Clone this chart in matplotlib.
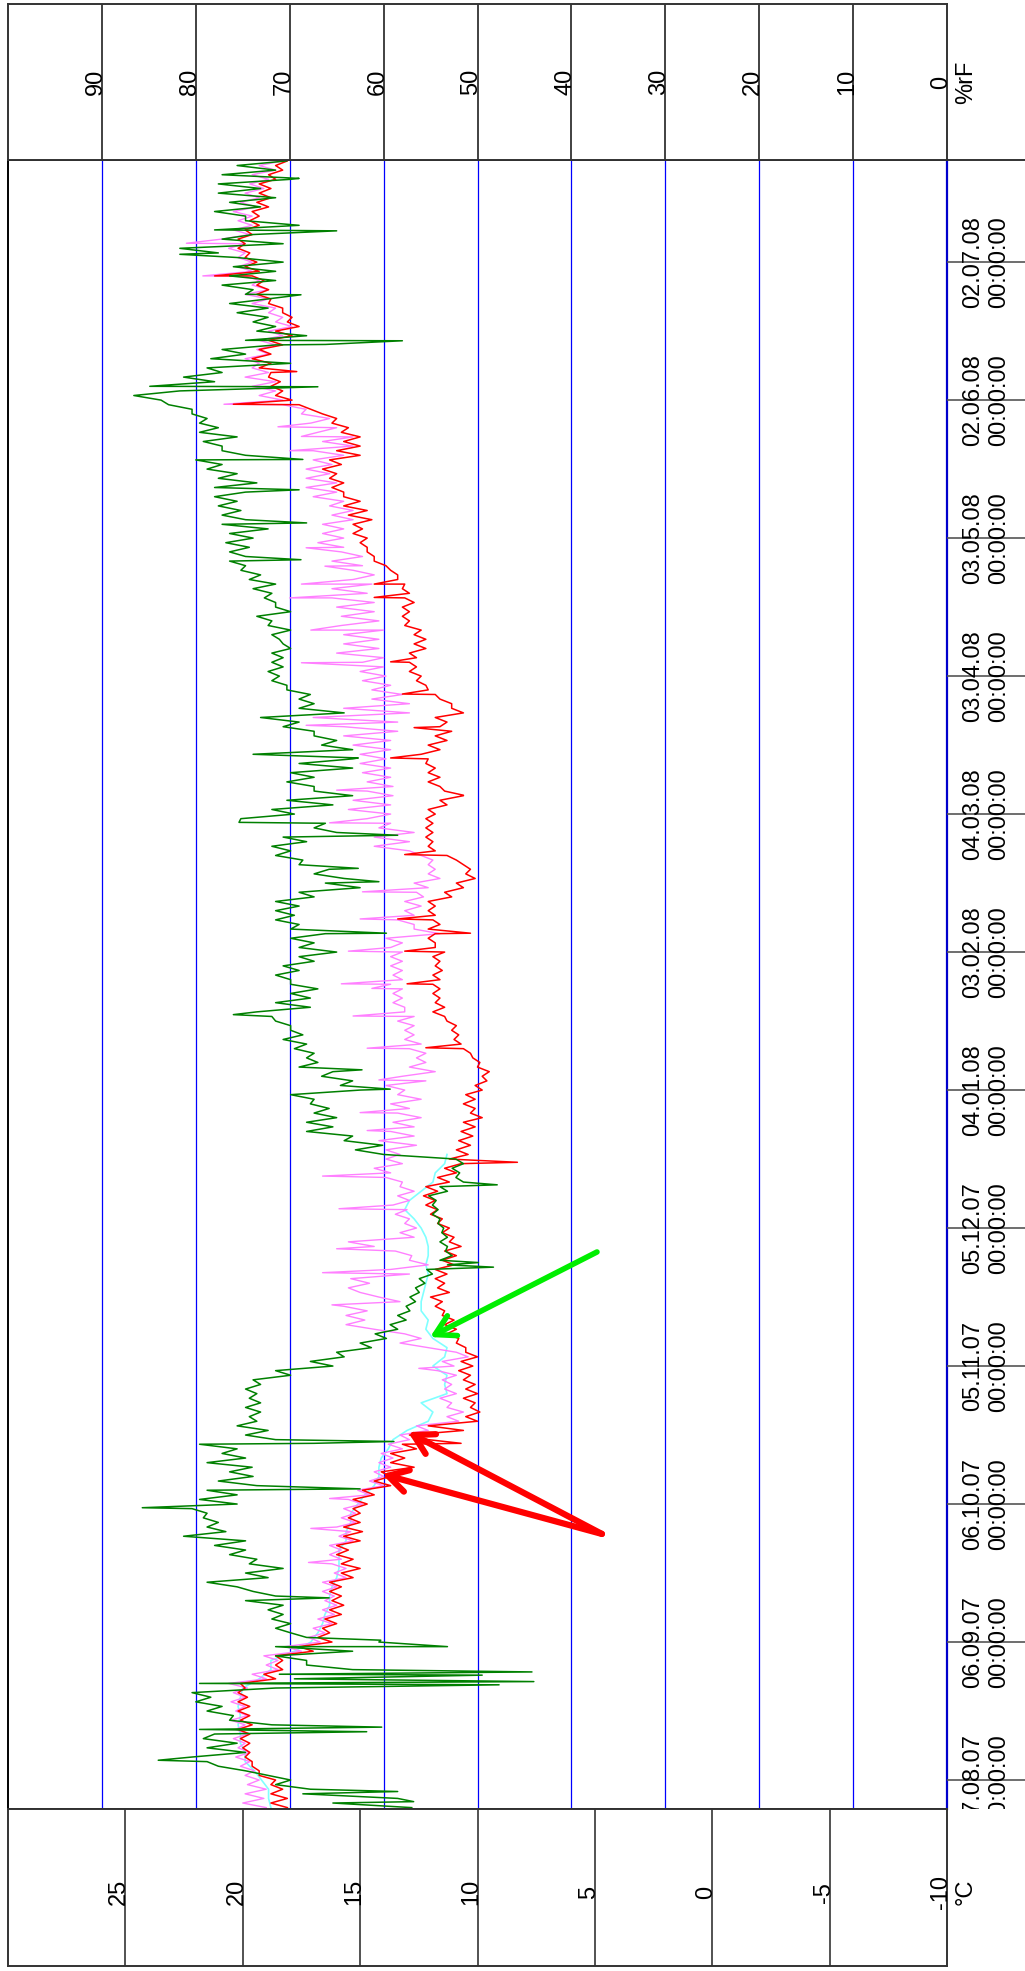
import numpy as np
import matplotlib.pyplot as plt
from datetime import datetime

plt.rcParams['font.family'] = ['Liberation Sans', 'DejaVu Sans']

# each reading block covers two days, counted from 07.08.07 00:00;
# *_lo is the lower edge of the band on the first day, *_hi the upper edge on the second day
days = np.arange(-6, 353, 2)

red_lo = [
    18.1, 18.1, 18.3, 18.6, 19.3, 19.6, 19.7, 19.7, 19.7, 19.6,
    19.7, 19.7, 19.8, 19.9, 18.6, 18.3, 18.3, 17.0, 16.2, 16.3,
    16.0, 15.8, 15.7, 15.8, 15.8, 15.3, 15.0, 15.3, 15.5, 15.0,
    14.9, 15.0, 15.0, 14.7, 14.4, 13.7, 13.7,
    12.7, 13.1, 12.6, 12.1, 10.6, 10.0, 9.9, 10.1, 10.0, 10.1,
    10.3, 10.2, 10.0, 10.5, 10.8, 10.9, 11.0, 11.4, 11.5, 11.2,
    11.4, 11.3, 11.0, 10.9, 10.7, 11.0, 11.2, 11.5, 11.7, 11.8,
    11.7, 11.2, 10.9, 10.7, 10.4,
    10.3, 10.2, 10.1, 9.8, 10.1, 10.1, 9.8, 9.6, 9.5, 9.9,
    10.3, 10.7, 10.8, 10.9, 11.4, 11.4, 11.6, 11.6, 11.6, 11.5,
    11.6, 11.4, 11.8, 11.8, 11.6, 11.8, 11.8, 11.1, 10.6, 10.1,
    10.3, 10.9, 11.8, 11.9, 11.9, 11.9,
    11.8, 11.3, 10.6, 11.6, 11.6, 11.8, 12.1, 11.6, 11.3, 11.1,
    11.3, 10.6, 11.1, 11.8, 12.2, 12.4, 12.6, 12.6, 12.2, 12.2,
    12.4, 12.9, 12.9, 12.7, 12.9, 13.1, 13.4, 13.9, 14.4, 14.7,
    14.7, 14.9, 14.5, 14.7, 15.0, 15.7,
    15.7, 16.0, 15.8, 15.0, 15.0, 15.0, 15.5, 16.0, 17.1, 17.9,
    18.3, 18.4, 18.8, 18.8, 18.8, 18.3, 17.9, 17.6, 17.9, 18.3,
    18.8, 18.9, 19.1, 19.3, 19.4, 19.7, 19.9, 19.6, 19.3, 19.3,
    18.9, 18.8, 18.8, 18.6, 18.3, 18.1,
]
red_hi = [
    18.8, 18.8, 18.8, 19.3, 19.6, 19.9, 20.0, 20.1, 20.2, 20.1,
    20.2, 20.2, 20.2, 20.1, 19.1, 18.6, 18.6, 17.6, 16.8, 16.6,
    16.5, 16.3, 16.2, 16.3, 16.3, 15.8, 15.8, 16.0, 16.0, 15.7,
    15.7, 15.5, 15.3, 15.3, 14.9, 14.4, 14.1,
    13.7, 13.7, 13.2, 12.9, 12.1, 10.5, 10.3, 10.6, 10.5, 10.6,
    10.8, 10.7, 10.5, 10.9, 11.3, 11.4, 11.5, 11.8, 12.0, 11.7,
    11.8, 11.8, 11.5, 11.4, 11.2, 11.5, 11.7, 12.0, 12.2, 12.3,
    12.2, 11.7, 11.4, 11.2, 10.9,
    10.8, 10.7, 10.6, 10.3, 10.6, 10.5, 10.1, 9.8, 10.0, 10.2,
    10.6, 11.0, 11.1, 11.3, 11.9, 11.8, 11.9, 11.9, 11.9, 11.8,
    11.9, 11.8, 12.1, 12.1, 11.9, 12.1, 12.1, 11.4, 10.9, 10.5,
    10.6, 11.3, 12.1, 12.2, 12.2, 12.2,
    12.1, 11.6, 11.4, 12.1, 12.1, 12.2, 12.4, 12.1, 11.8, 11.6,
    11.8, 11.1, 11.6, 12.1, 12.6, 12.9, 12.9, 12.9, 12.7, 12.7,
    13.1, 13.2, 13.2, 13.1, 13.2, 13.4, 13.7, 14.4, 14.7, 15.0,
    15.3, 15.3, 15.5, 15.7, 15.7, 16.2,
    16.3, 16.6, 16.3, 16.0, 15.7, 15.8, 16.2, 16.6, 17.6, 18.6,
    18.8, 18.9, 19.3, 19.6, 19.3, 18.9, 18.6, 18.1, 18.3, 18.9,
    19.4, 19.4, 19.6, 19.9, 19.9, 20.2, 20.2, 19.9, 19.7, 19.6,
    19.4, 19.3, 19.3, 18.9, 18.6, 18.4,
]

pink_lo = [
    19.0, 19.1, 19.0, 19.3, 19.5, 19.7, 19.7, 19.9, 19.8, 19.9,
    19.8, 19.9, 19.9, 19.8, 19.0, 18.5, 18.5, 17.5, 16.7, 16.5,
    16.2, 16.1, 16.0, 16.1, 16.0, 15.6, 15.6, 15.8, 15.8, 15.3,
    15.4, 15.2, 15.2, 14.9, 14.6, 14.0, 14.0,
    13.7, 13.6, 13.2, 12.9, 12.1, 10.8, 10.6, 11.1, 10.9, 11.1,
    10.9, 11.0, 10.4, 12.1, 12.4, 14.4, 14.8, 14.7, 13.3, 15.0,
    14.6, 12.9, 12.1, 12.8, 14.4, 12.7, 12.6, 12.9, 13.0, 12.9,
    12.7, 13.2, 13.7, 13.2, 13.3,
    12.6, 12.7, 12.7, 12.4, 12.9, 12.4, 13.1, 12.2, 11.8, 12.2,
    12.2, 12.4, 12.7, 12.7, 12.7, 13.1, 13.2, 13.2, 13.2, 13.2,
    13.2, 13.2, 13.2, 11.6, 12.7, 12.7, 12.4, 12.3, 12.1, 11.6,
    11.8, 11.9, 12.9, 12.9, 12.7, 13.7,
    13.7, 13.7, 13.6, 13.6, 13.7, 13.7, 13.9, 13.7, 13.7, 13.4,
    13.4, 12.9, 12.9, 13.2, 13.7, 13.9, 14.0, 14.0, 14.2, 14.2,
    14.0, 14.2, 14.4, 14.4, 14.7, 14.5, 14.4, 14.9, 14.9, 15.7,
    15.7, 15.7, 15.3, 15.3, 15.7, 16.0,
    16.0, 16.3, 16.2, 15.7, 15.3, 15.3, 16.0, 16.3, 17.3, 18.3,
    18.6, 18.6, 18.9, 19.3, 18.9, 18.6, 18.3, 17.9, 18.3, 18.6,
    18.9, 18.9, 19.3, 19.6, 19.6, 19.9, 19.9, 19.7, 19.6, 19.6,
    19.4, 19.3, 19.1, 18.9, 18.6, 18.3,
]
pink_hi = [
    20.0, 19.9, 19.8, 19.9, 20.1, 20.3, 20.2, 20.4, 20.3, 20.5,
    20.3, 20.5, 20.4, 20.6, 19.6, 19.0, 19.1, 18.2, 17.2, 17.0,
    16.8, 16.6, 16.5, 16.6, 16.6, 16.1, 16.2, 16.3, 16.3, 15.9,
    16.0, 15.8, 15.7, 15.5, 15.1, 14.6, 14.4,
    14.2, 14.1, 13.8, 13.3, 12.6, 11.3, 11.3, 11.6, 11.4, 11.5,
    11.7, 11.5, 10.9, 13.3, 13.1, 15.6, 15.6, 15.7, 14.2, 15.5,
    15.4, 13.7, 12.9, 13.5, 15.5, 13.3, 13.1, 13.5, 13.6, 13.4,
    13.3, 13.9, 14.4, 13.9, 13.9,
    14.2, 13.7, 13.6, 13.4, 13.7, 13.4, 13.9, 13.2, 12.9, 12.6,
    12.9, 13.1, 13.1, 13.4, 13.1, 13.6, 13.6, 13.7, 13.6, 13.7,
    13.7, 13.7, 13.9, 12.7, 13.4, 13.1, 13.1, 12.6, 12.7, 12.1,
    12.1, 12.4, 14.4, 14.4, 14.2, 14.7,
    15.5, 15.3, 14.7, 14.7, 14.9, 15.0, 15.0, 15.3, 15.7, 15.7,
    17.0, 15.7, 14.5, 14.5, 14.9, 15.0, 14.9, 16.0, 15.7, 15.7,
    15.8, 15.8, 16.0, 16.2, 16.2, 15.3, 15.3, 16.2, 15.8, 16.8,
    16.6, 16.6, 16.2, 16.3, 17.0, 17.3,
    17.3, 17.3, 17.0, 17.0, 16.6, 16.8, 17.1, 17.5, 18.3, 19.3,
    19.6, 19.9, 19.6, 19.9, 19.4, 19.3, 18.9, 18.6, 18.9, 19.6,
    19.9, 19.6, 19.9, 20.2, 20.2, 20.6, 20.9, 20.4, 20.2, 20.4,
    20.1, 19.9, 19.7, 19.6, 19.3, 18.9,
]

# cyan sensor only logged until mid December (one value per block)
temp_cyan = [
    18.8, 18.9, 18.9, 19.2, 19.5, 19.9, 19.9, 20.1, 20.1, 20.2,
    20.1, 20.2, 20.1, 20.0, 19.3, 18.8, 18.8, 17.8, 17.1, 16.8,
    16.6, 16.5, 16.3, 16.3, 16.2, 16.0, 15.9, 15.9, 15.9, 15.6,
    15.6, 15.4, 15.4, 15.1, 14.8, 14.4, 14.2,
    14.2, 14.1, 13.8, 13.6, 13.0, 12.1, 11.9, 12.4, 11.3, 11.4,
    11.3, 11.9, 11.4, 11.3, 11.9, 12.2, 12.1, 12.4, 12.4, 12.3,
    12.2, 12.1, 12.2, 12.1, 12.1, 12.2, 12.4, 12.7, 13.1, 12.9,
    12.4, 11.9, 11.8, 11.4, 11.3,
]

green_lo = [
    57, 58.5, 67.8, 69.9, 74.7, 78.8, 74.7, 75.6, 78.0, 71.9,
    76.0, 77.2, 78.4, 71.5, 69.5, 63.3, 68.2, 63.3, 60.5, 69.9,
    69.9, 70.7, 70.7, 71.5, 75.6, 72.3, 70.7, 73.5, 74.7, 74.7,
    76.8, 77.6, 78.8, 75.6, 75.6, 73.5, 73.9,
    74, 74.7, 75.6, 71.5, 72.3, 73.5, 73.1, 73.1, 73.5, 73.1,
    69.9, 65.4, 64.2, 61.3, 59.7, 58.5, 57.6, 57.2, 56.6, 56.2,
    55.6, 54.8, 53.2, 52.7, 53.2, 53.2, 53.6, 54.0, 54.2, 54.4,
    53.2, 51.5, 51.9, 51.5, 60,
    60.1, 63.3, 65.4, 65.0, 65.8, 67.4, 62.5, 63.3, 65.4, 67.0,
    67.4, 68.2, 68.6, 69.9, 71.9, 67.8, 67.8, 67.0, 69.9, 69.0,
    67.4, 65.0, 67.4, 66.2, 69.0, 69.5, 69.0, 67.4, 62.5, 64.2,
    65.8, 68.6, 69.9, 68.2, 65.0, 66.2,
    69.5, 65.4, 63.3, 67.4, 67.4, 63.3, 63.3, 63.3, 65.0, 67.4,
    69.0, 64.2, 67.4, 67.8, 70.3, 71.1, 70.7, 70.7, 69.9, 71.1,
    69.9, 71.9, 69.9, 71.5, 71.9, 71.5, 73.1, 74.7, 74.7, 74.3,
    73.9, 72.3, 74.7, 75.2, 75.6, 74.7,
    73.5, 75.6, 77.2, 74.7, 77.2, 75.6, 77.6, 78.8, 80.4, 83.7,
    81.7, 78.0, 77.2, 69.9, 74.7, 71.5, 68.2, 71.5, 72.3, 72.3,
    72.3, 73.9, 71.5, 71.5, 70.7, 77.6, 70.7, 73.9, 69.0, 74.7,
    73.1, 71.5, 73.1, 69.9, 71.5, 70.3,
]
green_hi = [
    65.4, 68.6, 71.5, 72.3, 77.6, 80.4, 78.8, 79.2, 79.6, 76.4,
    78.8, 80.0, 80.4, 79.6, 71.1, 68.2, 71.5, 71.5, 68.2, 71.5,
    71.9, 72.3, 74.7, 73.9, 78.8, 74.7, 74.3, 76.4, 78.0, 81.3,
    78.8, 79.2, 80.4, 79.6, 78.8, 77.6, 76.4,
    78.8, 77.2, 79.6, 74.7, 75.6, 74.3, 74.7, 74.3, 74.7, 73.9,
    71.5, 67.8, 65.0, 62.5, 60.9, 59.3, 58.5, 57.6, 57.2, 56.6,
    56.2, 55.4, 54.0, 53.4, 54.0, 53.8, 54.2, 54.8, 54.8, 55.2,
    54.0, 52.3, 52.7, 52.3, 63,
    64.2, 68.2, 68.2, 67.4, 67.8, 69.9, 64.6, 66.6, 69.0, 68.2,
    69.5, 70.7, 69.9, 71.5, 73.5, 71.5, 69.9, 69.9, 71.5, 70.7,
    69.0, 69.0, 69.9, 69.9, 71.5, 71.5, 71.5, 69.0, 66.2, 67.4,
    69.0, 71.5, 71.9, 70.7, 67.4, 75.2,
    71.9, 70.3, 67.4, 70.3, 69.9, 69.0, 73.9, 66.6, 67.4, 70.7,
    73.1, 69.0, 69.0, 70.3, 71.9, 72.3, 71.9, 71.9, 70.7, 71.9,
    72.3, 73.5, 71.5, 72.7, 73.9, 74.3, 75.2, 76.4, 76.4, 76.8,
    76.4, 77.2, 77.2, 77.6, 78.0, 78.0,
    77.6, 78.8, 80.0, 77.2, 79.2, 79.6, 79.6, 80.4, 82.9, 86.6,
    84.9, 81.3, 78.8, 78.4, 77.2, 74.7, 73.5, 73.9, 75.6, 76.4,
    74.7, 77.2, 76.4, 76.0, 75.6, 81.7, 77.2, 78.0, 74.7, 78.0,
    76.4, 77.6, 77.6, 77.2, 75.6, 75.2,
]

# single short excursions
red_spike_days = [73.2, 134.3, 159.2, 173.1, 180.2, 184.1, 187.2, 201.2, 214.1,
                  222.2, 228.8, 236.1, 243.1, 257.1, 260.0, 299.1, 306.2, 327.0]
red_spike_vals = [10.7, 8.3, 12.2, 13.0, 13.1, 10.3, 13.4, 13.1, 10.6,
                  13.7, 12.7, 13.2, 13.7, 14.4, 14.4, 20.4, 17.7, 21.2]

pink_spike_days = [47.3, 54.7, 61.2, 89.5, 103.3, 110.3, 115.5, 124.2, 131.3, 141.2,
                   145.1, 152.2, 159.1, 166.1, 172.1, 173.1, 180.2, 187.2, 193.1, 208.1,
                   215.2, 229.3, 242.9, 250.0, 257.0, 260.0, 263.9, 267.9, 289.0, 292.1,
                   294.2, 299.1, 327.0, 334.1]
pink_spike_vals = [17.2, 17.1, 16.3, 12.5, 16.2, 16.6, 16.0, 15.9, 16.6, 14.7,
                   15.0, 14.2, 14.7, 15.3, 14.5, 15.8, 15.5, 15.0, 14.9, 16.3,
                   16.0, 17.3, 17.5, 17.1, 18.0, 17.5, 16.5, 17.3, 18.0, 17.5,
                   18.5, 20.8, 21.7, 22.4]

green_spike_days = [-4.7, -2.5, 4.3, 10.5, 11.5, 20.7, 21.4, 22.8, 23.5, 29.0,
                    30.4, 39.6, 59.2, 63.3, 73.2, 73.6, 111.5, 112.5, 129.4, 150.2,
                    154.4, 166.4, 184.1, 195.3, 198.2, 205.4, 208.2, 222.2, 265.3, 273.3,
                    280.5, 287.1, 302.9, 312.1, 312.9, 322.9, 331.7, 336.8, 348.2]
green_spike_vals = [56.8, 58.5, 84.0, 61.8, 60.2, 47.7, 44.0, 49.5, 44.2, 53.2,
                    60.3, 65.8, 85.7, 62.5, 67.4, 58.9, 48.3, 49.9, 47.9, 59.3,
                    62.3, 76.0, 59.7, 60.5, 62.7, 58.5, 75.4, 62.7, 68.8, 68.2,
                    69.0, 68.6, 67.0, 66.2, 58.0, 68.8, 81.7, 65.0, 69.0]

rf_ticks = [0, 10, 20, 30, 40, 50, 60, 70, 80, 90]
temp_ticks = [-10, -5, 0, 5, 10, 15, 20, 25]
date_labels = ["07.08.07", "06.09.07", "06.10.07", "05.11.07", "05.12.07", "04.01.08",
               "03.02.08", "04.03.08", "03.04.08", "03.05.08", "02.06.08", "02.07.08"]

t_start = datetime(2007, 8, 7)
tick_days = [(datetime.strptime(s, "%d.%m.%y") - t_start).days for s in date_labels]


def band_series(lo, hi, sd, sv):
    # lo on the first day of each block, hi on the second, plus the spikes
    t = np.concatenate([np.column_stack([days, days + 1]).ravel(), sd])
    y = np.concatenate([np.column_stack([lo, hi]).ravel(), sv])
    order = np.argsort(t, kind="stable")
    return t[order], y[order]


W, H = 1025, 1971
fig = plt.figure(figsize=(W / 100, H / 100), dpi=100)


def box(x0, y0, x1, y1):
    return [x0 / W, 1 - y1 / H, (x1 - x0) / W, (y1 - y0) / H]


FS = 17
ax = fig.add_axes(box(8, 160, 947, 1809))
ax.set_xlim(30, -10)
ax.set_ylim(-6.3, 352.2)
ax.set_xticks([])
ax.set_yticks([])
for s in ["left", "top", "bottom"]:
    ax.spines[s].set_color("black")
    ax.spines[s].set_linewidth(1.4)
ax.spines["right"].set_color("#0000cc")
ax.spines["right"].set_linewidth(1.6)

ax_h = ax.twiny()
ax_h.set_xlim(100, 0)
ax_h.set_xticks([])
for s in ax_h.spines.values():
    s.set_visible(False)

# blue grid at the humidity steps
for r in rf_ticks[1:]:
    ax.axvline(-10 + 0.4 * r, color="blue", lw=0.9, zorder=0)

ax.plot(temp_cyan, days[:len(temp_cyan)], color="#80ffff", lw=1.2, zorder=1)
tp, vp = band_series(pink_lo, pink_hi, pink_spike_days, pink_spike_vals)
ax.plot(vp, tp, color="#ff80ff", lw=1.0, zorder=2)
tr, vr = band_series(red_lo, red_hi, red_spike_days, red_spike_vals)
ax.plot(vr, tr, color="red", lw=1.1, zorder=3)
tg, vg = band_series(green_lo, green_hi, green_spike_days, green_spike_vals)
ax_h.plot(vg, tg, color="green", lw=1.1)

# marker arrows (°C / day coordinates)
red_kw = dict(arrowstyle="->,head_length=0.7,head_width=0.4", color="red", lw=4.5,
              mutation_scale=20, shrinkA=0, shrinkB=0)
green_kw = dict(arrowstyle="->,head_length=0.7,head_width=0.4", color="#00ee00", lw=4,
                mutation_scale=20, shrinkA=0, shrinkB=0)
for head in [(12.96, 75.65), (14.07, 66.5)]:
    ax_h.annotate("", xy=head, xycoords=ax.transData, xytext=(4.7, 53.5),
                  textcoords=ax.transData, arrowprops=red_kw)
ax_h.annotate("", xy=(12.02, 96.3), xycoords=ax.transData, xytext=(4.91, 114.8),
              textcoords=ax.transData, arrowprops=green_kw)

# humidity scale panel
ax_top = fig.add_axes(box(8, 4, 947, 160))
ax_top.set_xlim(100, 0)
ax_top.set_ylim(0, 1)
ax_top.set_xticks([])
ax_top.set_yticks([])
for s in ax_top.spines.values():
    s.set_color("#333333")
    s.set_linewidth(1.4)
for r in rf_ticks:
    if r > 0:
        ax_top.axvline(r, color="#333333", lw=1.3)
    ax_top.text(r, 0.5, str(r), rotation=90, rotation_mode="anchor",
                ha="center", va="baseline", fontsize=FS)
fig.text(955 / W, 1 - 82 / H, "%rF", rotation=90, rotation_mode="anchor",
         ha="center", va="top", fontsize=FS)

# temperature scale panel
ax_bot = fig.add_axes(box(8, 1809, 947, 1966))
ax_bot.set_xlim(30, -10)
ax_bot.set_ylim(0, 1)
ax_bot.set_xticks([])
ax_bot.set_yticks([])
for s in ax_bot.spines.values():
    s.set_color("#333333")
    s.set_linewidth(1.4)
for t in temp_ticks:
    if t > -10:
        ax_bot.axvline(t, color="#444444", lw=1.3)
    ax_bot.text(t, 0.47, str(t), rotation=90, rotation_mode="anchor",
                ha="center", va="baseline", fontsize=FS)
fig.text(955 / W, 1 - 1892 / H, "°C", rotation=90, rotation_mode="anchor",
         ha="center", va="top", fontsize=FS)

# date strip
ax_d = fig.add_axes(box(947, 160, 1025, 1809))
ax_d.set_xlim(0, 1)
ax_d.set_ylim(ax.get_ylim())
ax_d.set_xticks([])
ax_d.set_yticks([])
ax_d.patch.set_alpha(0)
for s in ["left", "right", "bottom"]:
    ax_d.spines[s].set_visible(False)
ax_d.spines["top"].set_color("#333333")
ax_d.spines["top"].set_linewidth(1.4)
ax_d.hlines(tick_days, 0, 1, color="#555555", lw=1.2)
for d, lab in zip(tick_days, date_labels):
    ax_d.text(0.5, d, lab + "\n00:00:00", rotation=90, rotation_mode="anchor",
              ha="center", va="center", fontsize=FS, clip_on=True)

fig.savefig("out.png", dpi=100, facecolor="white")
